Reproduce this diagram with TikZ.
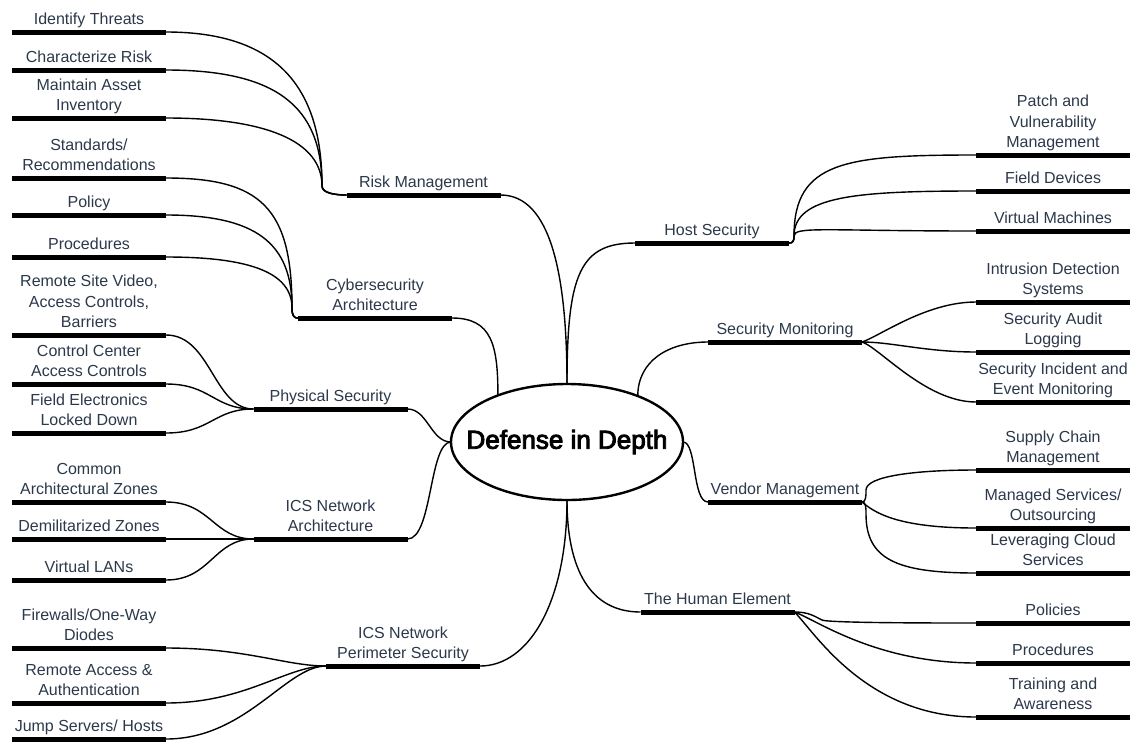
\documentclass[tikz,border=0pt]{standalone}
\usepackage{fontspec}
\setmainfont{Liberation Sans}
\newfontfamily\heavyfont[FakeBold=3.5]{Liberation Sans}
\usetikzlibrary{shapes.geometric,positioning}
\definecolor{labelink}{HTML}{2C394B}
\tikzset{
  bar/.style={fill=black, minimum width=154pt, minimum height=5pt, inner sep=0pt, outer sep=0pt},
  caption/.style={text=labelink, font=\fontsize{16}{20.5}\selectfont, align=center, inner sep=0pt, text depth=0pt},
  link/.style={draw=black, line width=1.4pt},
  hub/.style={ellipse, draw=black, line width=2.4pt, minimum width=232pt, minimum height=116pt,
              inner xsep=-24pt, inner ysep=0pt, outer sep=0pt, font=\heavyfont\fontsize{26}{30}\selectfont}
}
% a topic: a thick bar with its caption set just above it
\newcommand\topic[4]{\node[bar] (#1) at (#2,#3) {}; \node[caption, above=4.5pt of #1] (#1-t) {#4};}
\begin{document}
\begin{tikzpicture}[x=1pt,y=-1pt]
\fill[white] (0,0) rectangle (1131,742);
\useasboundingbox (0,0) rectangle (1131,742);

% central hub
\node[hub] (E) at (567,442) {Defense in Depth};

% main branches
\topic{riskmgmt}{423.5}{195}{Risk Management}
\topic{cyber}{375}{318}{Cybersecurity\\Architecture}
\topic{physical}{330.5}{409}{Physical Security}
\topic{icsarch}{330.5}{539}{ICS Network\\Architecture}
\topic{perimeter}{403}{666}{ICS Network\\Perimeter Security}
\topic{host}{712}{243}{Host Security}
\topic{monitor}{785}{342}{Security Monitoring}
\topic{vendor}{785}{502}{Vendor Management}
\topic{human}{717.5}{612}{The Human Element}

% left-hand leaves
\topic{threats}{89}{32}{Identify Threats}
\topic{risk}{89}{70}{Characterize Risk}
\topic{assets}{89}{118}{Maintain Asset\\Inventory}
\topic{standards}{89}{178}{Standards/\\Recommendations}
\topic{policy}{89}{215}{Policy}
\topic{procs}{89}{257}{Procedures}
\topic{remote}{89}{335}{Remote Site Video,\\Access Controls,\\Barriers}
\topic{ctrlctr}{89}{384}{Control Center\\Access Controls}
\topic{fieldel}{89}{433}{Field Electronics\\Locked Down}
\topic{zones}{89}{502}{Common\\Architectural Zones}
\topic{dmz}{89}{539}{Demilitarized Zones}
\topic{vlan}{89}{580}{Virtual LANs}
\topic{firewall}{89}{648}{Firewalls/One-Way\\Diodes}
\topic{access}{89}{703}{Remote Access \&\\Authentication}
\topic{jump}{89}{739}{Jump Servers/ Hosts}

% right-hand leaves
\topic{patch}{1053}{155}{Patch and\\Vulnerability\\Management}
\topic{fielddev}{1053}{191}{Field Devices}
\topic{vms}{1053}{231}{Virtual Machines}
\topic{ids}{1053}{302}{Intrusion Detection\\Systems}
\topic{audit}{1053}{352}{Security Audit\\Logging}
\topic{siem}{1053}{402}{Security Incident and\\Event Monitoring}
\topic{supply}{1053}{470}{Supply Chain\\Management}
\topic{managed}{1053}{528}{Managed Services/\\Outsourcing}
\topic{cloud}{1053}{573}{Leveraging Cloud\\Services}
\topic{policies}{1053}{623}{Policies}
\topic{procedures}{1053}{663}{Procedures}
\topic{training}{1053}{717}{Training and\\Awareness}

% fork points where bundled connectors merge
\coordinate (rmj) at (322,186);
\coordinate (cyj) at (292,308);
\coordinate (hostj) at (794,236);
\coordinate (venup) at (866,490);
\coordinate (vendn) at (866,514);
\coordinate (humj) at (822,620);

% hub to main branches
\draw[link] (E.north) .. controls +(0,-110) and +(50,0) .. (riskmgmt.east);
\draw[link] (E.north) .. controls +(0,-110) and +(-55,0) .. (host.west);
\draw[link] (E.146) .. controls +(0,-50) and +(40,0) .. (cyber.east);
\draw[link] (E.33) .. controls +(0,-35) and +(-40,0) .. (monitor.west);
\draw[link] (E.west) .. controls +(-20,0) and +(20,0) .. (physical.east);
\draw[link] (E.west) .. controls +(-22,0) and +(25,0) .. (icsarch.east);
\draw[link] (E.east) .. controls +(14,0) and +(-16,0) .. (vendor.west);
\draw[link] (E.south) .. controls +(0,70) and +(-50,0) .. (human.west);
\draw[link] (E.south) .. controls +(0,100) and +(50,0) .. (perimeter.east);

% risk management
\draw[link] (threats.east) .. controls +(110,0) and +(0,-100) .. (rmj) .. controls +(0,7) and +(-12,0) .. (riskmgmt.west);
\draw[link] (risk.east) .. controls +(110,0) and +(0,-80) .. (rmj) .. controls +(0,7) and +(-12,0) .. (riskmgmt.west);
\draw[link] (assets.east) .. controls +(100,0) and +(0,-45) .. (rmj) .. controls +(0,7) and +(-12,0) .. (riskmgmt.west);

% cybersecurity architecture
\draw[link] (standards.east) .. controls +(95,0) and +(0,-100) .. (cyj) .. controls +(0,8) and +(-4,0) .. (cyber.west);
\draw[link] (policy.east) .. controls +(90,0) and +(0,-65) .. (cyj) .. controls +(0,8) and +(-4,0) .. (cyber.west);
\draw[link] (procs.east) .. controls +(85,0) and +(0,-35) .. (cyj) .. controls +(0,8) and +(-4,0) .. (cyber.west);

% physical security
\draw[link] (remote.east) .. controls +(45,0) and +(-40,0) .. (physical.west);
\draw[link] (ctrlctr.east) .. controls +(45,0) and +(-40,0) .. (physical.west);
\draw[link] (fieldel.east) .. controls +(45,0) and +(-40,0) .. (physical.west);

% ICS network architecture
\draw[link] (zones.east) .. controls +(45,0) and +(-40,0) .. (icsarch.west);
\draw[link] (dmz.east) -- (icsarch.west);
\draw[link] (vlan.east) .. controls +(45,0) and +(-40,0) .. (icsarch.west);

% ICS network perimeter security
\draw[link] (firewall.east) .. controls +(80,0) and +(-40,0) .. (perimeter.west);
\draw[link] (access.east) .. controls +(80,0) and +(-40,0) .. (perimeter.west);
\draw[link] (jump.east) .. controls +(80,0) and +(-40,0) .. (perimeter.west);

% host security
\draw[link] (host.east) .. controls +(4,0) and +(0,5) .. (hostj) .. controls +(0,-75) and +(-130,0) .. (patch.west);
\draw[link] (host.east) .. controls +(4,0) and +(0,5) .. (hostj) .. controls +(0,-40) and +(-120,0) .. (fielddev.west);
\draw[link] (host.east) .. controls +(4,0) and +(0,5) .. (hostj) .. controls +(0,-10) and +(-150,0) .. (vms.west);

% security monitoring
\draw[link] (monitor.east) .. controls +(18,-6) and +(-50,0) .. (ids.west);
\draw[link] (monitor.east) .. controls +(30,0) and +(-50,0) .. (audit.west);
\draw[link] (monitor.east) .. controls +(18,6) and +(-50,0) .. (siem.west);

% vendor management
\draw[link] (vendor.east) .. controls +(4,0) and +(0,6) .. (venup) .. controls +(0,-14) and +(-60,0) .. (supply.west);
\draw[link] (vendor.east) .. controls +(12,10) and +(-80,0) .. (managed.west);
\draw[link] (vendor.east) .. controls +(4,0) and +(0,-6) .. (vendn) .. controls +(0,45) and +(-80,0) .. (cloud.west);

% the human element
\draw[link] (human.east) .. controls +(14,0) and +(-8,-4) .. (humj) .. controls +(6,3) and +(-40,0) .. (policies.west);
\draw[link] (human.east) .. controls +(22,8) and +(-100,0) .. (procedures.west);
\draw[link] (human.east) .. controls +(20,20) and +(-110,0) .. (training.west);
\end{tikzpicture}
\end{document}
